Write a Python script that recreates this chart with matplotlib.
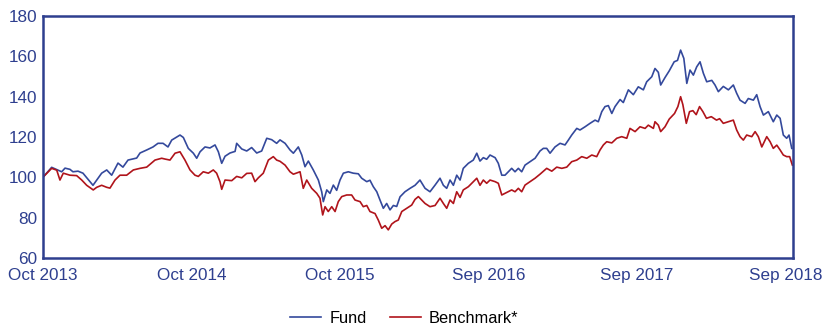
import matplotlib.pyplot as plt

plt.rcParams['font.family'] = ['Liberation Sans', 'DejaVu Sans']

# months since Oct 2013, index level (start = 100)
fund_t = [0.00, 0.70, 1.21, 1.51, 1.78, 2.18, 2.42, 2.83, 3.23, 3.80, 4.04, 4.34, 4.74,
          5.15, 5.55, 6.06, 6.46, 6.87, 7.57, 7.84, 8.38, 8.89, 9.29, 9.70, 10.10, 10.40,
          11.07, 11.34, 11.74, 12.15, 12.42, 12.69, 13.09, 13.49, 13.90, 14.17, 14.44,
          14.71, 15.11, 15.52, 15.65, 16.06, 16.46, 16.86, 17.27, 17.67, 18.08, 18.48,
          18.88, 19.15, 19.56, 19.96, 20.23, 20.63, 20.91, 21.17, 21.44, 21.84, 22.25,
          22.52, 22.65, 22.93, 23.19, 23.46, 23.73, 24.00, 24.27, 24.67, 25.07, 25.48,
          25.75, 26.16, 26.42, 26.69, 26.97, 27.23, 27.50, 27.77, 28.04, 28.31, 28.58,
          28.85, 29.25, 29.66, 30.06, 30.46, 30.87, 31.27, 31.68, 32.08, 32.35, 32.62,
          32.89, 33.16, 33.43, 33.70, 33.96, 34.37, 34.77, 35.05, 35.31, 35.58, 35.85,
          36.12, 36.53, 36.79, 37.07, 37.33, 37.60, 37.87, 38.14, 38.41, 38.68, 38.95,
          39.35, 39.76, 40.16, 40.43, 40.70, 40.97, 41.37, 41.78, 42.18, 42.45, 42.72,
          43.13, 43.39, 43.80, 44.20, 44.61, 44.87, 45.15, 45.41, 45.68, 45.96, 46.22,
          46.63, 46.89, 47.30, 47.70, 48.10, 48.51, 48.78, 49.19, 49.45, 49.72, 49.91,
          50.26, 50.60, 51.00, 51.27, 51.52, 51.78, 52.02, 52.28, 52.55, 52.82, 53.09,
          53.36, 53.63, 54.04, 54.30, 54.57, 54.97, 55.38, 55.78, 56.05, 56.32, 56.73,
          56.99, 57.40, 57.67, 57.94, 58.21, 58.61, 59.01, 59.29, 59.56, 59.82, 60.09,
          60.28, 60.50]
fund = [100.0, 104.9, 103.5, 102.7, 104.5, 103.9, 102.7, 103.0, 102.0, 97.8, 96.0, 98.6, 102.0,
        103.6, 101.0, 107.0, 105.0, 108.5, 109.5, 112.0, 113.5, 115.0, 116.8, 116.8, 115.0, 118.4,
        120.9, 119.7, 114.3, 111.9, 109.4, 112.6, 115.0, 114.5, 116.0, 112.6, 106.9,
        110.4, 112.0, 112.8, 116.8, 114.0, 113.0, 114.7, 112.0, 113.0, 119.3, 118.6,
        116.8, 118.5, 116.8, 113.5, 111.9, 115.0, 111.0, 105.2, 108.0, 103.6, 98.6,
        92.8, 87.9, 93.7, 92.0, 96.1, 93.5, 98.6, 102.0, 102.7, 102.0, 101.7,
        99.5, 97.8, 98.5, 95.3, 92.8, 88.7, 84.6, 87.0, 83.8, 86.0, 85.5,
        90.3, 92.8, 94.5, 96.0, 98.6, 94.5, 92.8, 96.1, 99.5, 96.0, 94.5,
        98.6, 96.0, 101.0, 98.6, 104.4, 106.9, 108.5, 111.9, 108.0, 109.7, 108.9,
        111.0, 109.7, 106.9, 101.0, 101.0, 102.7, 104.4, 102.7, 104.4, 102.7, 106.0,
        107.7, 109.4, 113.0, 114.3, 114.3, 111.9, 115.0, 116.8, 116.0, 118.4, 120.9,
        124.2, 123.4, 125.0, 126.7, 128.3, 127.5, 132.5, 135.0, 135.5, 131.6, 135.0,
        138.5, 137.0, 143.3, 140.9, 144.8, 143.3, 147.3, 149.8, 153.9, 152.0, 145.7,
        149.4, 152.7, 157.2, 157.9, 163.0, 158.9, 146.5, 153.1, 150.6, 154.7, 157.2,
        151.5, 147.3, 148.0, 145.7, 142.4, 145.0, 143.3, 145.7, 141.6, 138.2, 136.6,
        139.0, 138.2, 140.9, 135.0, 130.8, 132.5, 127.5, 130.8, 129.2, 120.9, 119.3,
        120.9, 114.3]

bench_t = [0.00, 0.70, 1.11, 1.37, 1.64, 2.18, 2.72, 3.13, 3.53, 4.06, 4.34, 4.74, 5.15,
           5.41, 5.82, 6.22, 6.76, 7.30, 7.84, 8.38, 9.05, 9.59, 9.86, 10.26, 10.67, 11.07,
           11.47, 11.88, 12.28, 12.55, 12.95, 13.36, 13.76, 14.03, 14.30, 14.44, 14.71,
           15.25, 15.65, 16.06, 16.46, 16.86, 17.13, 17.40, 17.80, 18.21, 18.61, 18.88,
           19.15, 19.56, 19.96, 20.23, 20.77, 21.03, 21.31, 21.71, 22.12, 22.38, 22.60,
           22.79, 23.05, 23.33, 23.60, 23.86, 24.14, 24.54, 24.94, 25.21, 25.62, 25.88,
           26.16, 26.42, 26.83, 27.09, 27.37, 27.64, 27.90, 28.18, 28.44, 28.71, 28.99,
           29.39, 29.79, 30.06, 30.33, 30.87, 31.27, 31.68, 32.08, 32.35, 32.62, 32.89,
           33.16, 33.43, 33.70, 33.96, 34.37, 34.77, 35.05, 35.31, 35.58, 35.85, 36.12,
           36.53, 36.79, 37.07, 37.33, 37.60, 37.87, 38.14, 38.41, 38.68, 38.95, 39.35,
           39.76, 40.16, 40.70, 41.11, 41.51, 41.92, 42.32, 42.72, 43.13, 43.53, 43.94,
           44.34, 44.74, 45.01, 45.28, 45.55, 45.96, 46.36, 46.76, 47.17, 47.43, 47.84,
           48.24, 48.65, 48.91, 49.32, 49.45, 49.72, 49.91, 50.26, 50.60, 51.03, 51.30,
           51.52, 51.70, 51.98, 52.24, 52.51, 52.78, 53.05, 53.32, 53.61, 54.00, 54.42,
           54.67, 54.97, 55.38, 55.78, 56.05, 56.32, 56.59, 56.86, 57.27, 57.54, 57.80,
           58.08, 58.48, 58.75, 59.01, 59.29, 59.56, 59.82, 60.09, 60.33, 60.55]
bench = [100.0, 104.4, 103.5, 98.6, 102.0, 101.0, 100.8, 98.6, 96.0, 93.7, 95.0, 96.0, 95.0,
         94.6, 98.6, 101.0, 101.0, 103.6, 104.4, 105.0, 108.5, 109.4, 109.0, 108.5, 111.9, 112.6,
         108.5, 103.6, 101.0, 100.4, 102.7, 102.0, 103.6, 102.0, 97.8, 94.0, 98.6,
         98.3, 100.4, 99.7, 101.9, 102.0, 97.8, 99.7, 102.0, 108.5, 110.2, 108.5,
         107.9, 106.0, 102.7, 101.5, 102.7, 94.5, 98.6, 94.5, 92.0, 89.6, 81.3,
         85.4, 83.0, 85.4, 83.0, 87.9, 90.4, 91.2, 91.2, 88.7, 87.9, 85.4,
         86.0, 83.0, 82.0, 78.8, 74.7, 76.0, 73.9, 76.8, 78.0, 78.8, 83.0,
         84.6, 86.2, 89.0, 90.4, 87.0, 85.4, 86.0, 89.6, 87.0, 84.6, 88.7,
         87.0, 92.8, 90.0, 93.7, 95.3, 97.8, 99.5, 96.0, 98.6, 97.0, 98.6,
         97.8, 97.0, 91.2, 92.0, 92.8, 93.7, 92.8, 94.5, 92.8, 96.1, 97.8,
         99.5, 101.5, 104.4, 103.0, 105.0, 104.4, 105.0, 107.7, 108.5, 110.2, 109.4,
         111.0, 110.2, 113.5, 116.0, 117.6, 117.0, 119.3, 120.1, 119.3, 124.2, 122.6,
         125.0, 124.2, 125.8, 124.2, 127.5, 125.8, 122.6, 125.0, 128.8, 131.6, 135.0,
         139.9, 136.0, 126.7, 132.5, 133.0, 131.0, 135.0, 132.5, 129.2, 130.0, 128.3,
         129.0, 126.7, 127.5, 128.3, 123.4, 120.1, 118.4, 120.9, 120.1, 122.6, 120.1,
         115.0, 120.1, 117.6, 114.3, 115.9, 113.5, 111.0, 110.2, 110.2, 106.0]

tick_months = [0, 12, 24, 36, 48, 60]
tick_labels = ['Oct 2013', 'Oct 2014', 'Oct 2015', 'Sep 2016', 'Sep 2017', 'Sep 2018']

navy = '#2E3F8F'

fig = plt.figure(figsize=(8.3, 3.29), dpi=100)
ax = fig.add_axes([0.0518, 0.216, 0.9036, 0.736])

ax.plot(fund_t, fund, color='#34499C', lw=1.2, label='Fund')
ax.plot(bench_t, bench, color='#B0141B', lw=1.2, label='Benchmark*')

ax.set_xlim(0, 60.6)
ax.set_ylim(60, 180)
ax.set_yticks(range(60, 181, 20))
ax.set_xticks(tick_months)
ax.set_xticklabels(tick_labels)
ax.tick_params(length=0, labelsize=12.3, labelcolor=navy)
ax.tick_params(axis='x', pad=7)
ax.tick_params(axis='y', pad=4)
for s in ax.spines.values():
    s.set_color(navy)
    s.set_linewidth(1.8)

fig.legend(loc='center', bbox_to_anchor=(0.487, 0.033), ncol=2, frameon=False,
           fontsize=11.8, handlelength=1.9, columnspacing=1.4, handletextpad=0.5)

plt.savefig('out.png', dpi=100)
